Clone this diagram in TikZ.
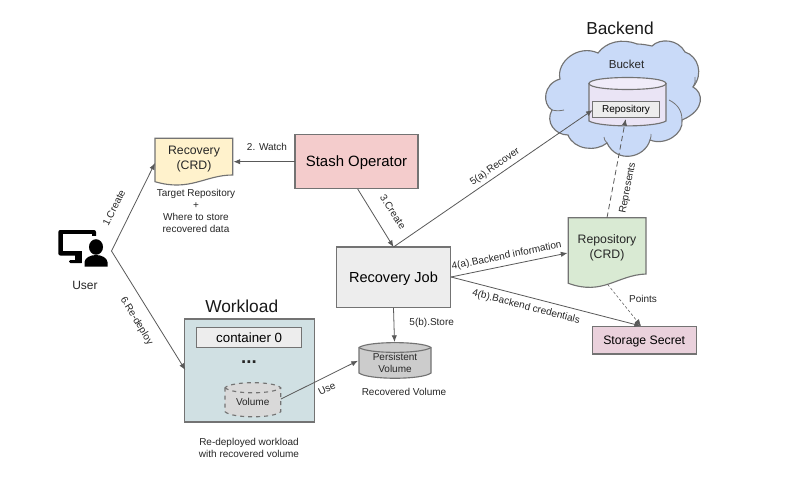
\documentclass[tikz,border=0pt]{standalone}
\usepackage{fontspec}
\setmainfont{Liberation Sans}
\usetikzlibrary{arrows.meta}
\definecolor{ln}{HTML}{595959}
\definecolor{edge}{HTML}{737373}
\definecolor{cloudc}{HTML}{C9DAF8}
\tikzset{x=0.75pt,y=-0.75pt,
 conn/.style={draw=ln,line width=0.6pt,-{Latex[length=5pt,width=4pt]}},
 connd/.style={conn,dash pattern=on 4pt off 2.5pt},
 conne/.style={conn,line width=0.4pt,dash pattern=on 2pt off 1.5pt},
 shp/.style={draw=edge,line width=0.85pt},
 box/.style={shp,inner sep=0pt,align=center},
 lbl/.style={font=\fontsize{7.5}{9}\selectfont,text=black!85,inner sep=0pt,align=center},
 big/.style={font=\fontsize{13}{15}\selectfont,text=black!90,inner sep=0pt,align=center}}
\begin{document}
\begin{tikzpicture}
\useasboundingbox (0,0) rectangle (786,489);
\fill[white] (0,0) rectangle (786,489);
% cloud
\path[shp,fill=cloudc]
 (598,53) .. controls (606,42) and (622,38) .. (637,44)
 .. controls (642,44) and (647,45) .. (652,46)
 .. controls (660,38) and (678,39) .. (685,52)
 .. controls (698,56) and (704,74) .. (693,87)
 .. controls (703,92) and (706,110) .. (682,120)
 .. controls (684,134) and (665,146) .. (650,140)
 .. controls (645,158) and (617,164) .. (607,143)
 .. controls (596,152) and (574,150) .. (568,135)
 .. controls (555,135) and (545,122) .. (552,110)
 .. controls (542,104) and (543,84) .. (560,79)
 .. controls (556,62) and (578,44) .. (598,53) -- cycle;
\draw[shp,line width=0.6pt] (693,87) .. controls (695,83) and (696,80) .. (695,77)
 (682,120) .. controls (682,110) and (677,104) .. (669,100)
 (552,110) .. controls (556,111) and (560,111) .. (564,110)
 (607,143) .. controls (605,141) and (604,139) .. (604,137)
 (650,140) .. controls (651,138) and (651,136) .. (651,134);
\node[big] (backend) at (620,28) {Backend};
\node[lbl,font=\fontsize{8.7}{10}\selectfont] (bucket) at (626.5,64) {Bucket};
% bucket cylinder
\path[shp,fill={rgb,255:red,234;green,228;blue,245}]
 (589,83.5) -- (589,121) .. controls (600,127.5) and (655,127.5) .. (666,121) -- (666,83.5) -- cycle;
\path[shp,fill={rgb,255:red,240;green,236;blue,249}]
 (589,83.5) .. controls (589,75.5) and (666,75.5) .. (666,83.5) .. controls (666,91.5) and (589,91.5) .. (589,83.5) -- cycle;
\node[box,fill=black!7,minimum width=50pt,minimum height=12pt,font=\fontsize{7.5}{9}\selectfont] (repoin) at (626,109.7) {Repository};
% recovery crd
\path[shp,fill={rgb,255:red,255;green,242;blue,204}]
 (155,138.3) -- (232.7,138.3) -- (232.7,175) .. controls (205,175) and (190,192) .. (155,181.7) -- cycle;
\node[lbl,font=\fontsize{9.2}{11.25}\selectfont] (rec) at (194,159.5) {Recovery\\(CRD)};
\coordinate (recw) at (155,163); \coordinate (rece) at (233.5,161.7);
\node[lbl] (rectxt) at (196,211) {Target Repository\\+\\Where to store\\recovered data};
% stash
\node[box,fill={rgb,255:red,244;green,204;blue,204},minimum width=92.2pt,minimum height=41pt,text depth=0pt,font=\fontsize{11.2}{13}\selectfont] (stash) at (356.5,161.5) {Stash Operator};
% job
\node[box,fill=black!7,minimum width=85.8pt,minimum height=45.5pt,text depth=0pt,font=\fontsize{10.9}{13}\selectfont] (job) at (393.5,277.3) {Recovery Job};
% repository crd
\path[shp,fill={rgb,255:red,217;green,234;blue,211}]
 (568.3,217.7) -- (646,217.7) -- (646,274) .. controls (617,275) and (603,296) .. (568.3,283.3) -- cycle;
\node[lbl,font=\fontsize{9.2}{11.25}\selectfont] (repo) at (607,247.5) {Repository\\(CRD)};
\coordinate (repow) at (567.5,253); \coordinate (repot) at (607,217.7); \coordinate (repob) at (607.7,284.5);
% secret
\node[box,fill={rgb,255:red,234;green,209;blue,220},minimum width=77.8pt,minimum height=20.5pt,text depth=0pt,font=\fontsize{9.2}{11}\selectfont] (secret) at (644.2,340.3) {Storage Secret};
\coordinate (sect) at (641,326);
% workload
\node[big] (wl) at (241.7,306.7) {Workload};
\node[box,fill={rgb,255:red,208;green,224;blue,227},minimum width=97pt,minimum height=77.2pt] (wbox) at (249.5,370.5) {};
\coordinate (wboxw) at (185.3,370);
\node[box,fill=black!7,minimum width=78.75pt,minimum height=14.7pt,font=\fontsize{10}{12}\selectfont] (c0) at (249.2,337.5) {container 0};
\node[font=\bfseries\fontsize{14}{14}\selectfont,inner sep=0pt,text=black!85] (dots) at (249,362) {...};
% volume
\path[fill=black!15,draw=edge,line width=0.85pt,dashed]
 (225,387.7) -- (225,411.7) .. controls (232,418.5) and (274,418.5) .. (280.7,411.7) -- (280.7,387.7) .. controls (274,381) and (232,381) .. (225,387.7) -- cycle;
\draw[draw=edge,line width=0.85pt,dashed] (225,387.7) .. controls (232,394.5) and (274,394.5) .. (280.7,387.7);
\node[lbl] (vol) at (252.7,402.3) {Volume};
\coordinate (vole) at (281,399);
% pv
\path[shp,fill=black!20]
 (359,347.5) -- (359,373) .. controls (368,380) and (422,380) .. (431,373) -- (431,347.5) .. controls (422,341) and (368,341) .. (359,347.5) -- cycle;
\draw[shp] (359,347.5) .. controls (368,354) and (422,354) .. (431,347.5);
\node[lbl] (pv) at (395,363) {Persistent\\Volume};
\coordinate (pvw) at (358,360.7); \coordinate (pvt) at (394.5,342);
\node[lbl] (rv) at (404,391.7) {Recovered Volume};
\node[lbl] (rd) at (249,447.5) {Re-deployed workload\\with recovered volume};
% user
\coordinate (uc) at (111.5,251);
\fill[black,rounded corners=1.5pt] (58.3,230) rectangle (96,255.5);
\fill[white] (62.7,234) rectangle (91.5,251);
\fill[black] (75,255) rectangle (82,260);
\fill[black,rounded corners=1pt] (69,260) rectangle (83,263);
\fill[white] (82,236) rectangle (110,268);
\fill[black] (96,247) ellipse[x radius=7,y radius=7.8];
\fill[black] (84.5,266.7) -- (84.5,262) .. controls (85,258) and (90,255) .. (96,255) .. controls (102,255) and (107,258) .. (107.5,262) -- (107.5,266.7) -- cycle;
\node[lbl,font=\fontsize{9}{11}\selectfont] (user) at (85,285) {User};
% connectors
\coordinate (stashw) at (295,161.7);
\coordinate (stashb) at (357.7,189);
\coordinate (jobt) at (393.5,247);
\coordinate (jobe) at (451,277);
\coordinate (jobb) at (393.5,308);
\coordinate (repoil) at (592.7,110);
\coordinate (repoib) at (625.7,119);
\draw[conn] (uc) -- (recw);
\draw[conn] (uc) -- (wboxw);
\draw[conn] (stashw) -- (rece);
\draw[conn] (stashb) -- (jobt);
\draw[conn] (jobt) -- (repoil);
\draw[conn] (jobe) -- (repow);
\draw[conn] (jobe) -- (sect);
\draw[conn] (jobb) -- (pvt);
\draw[conn] (vole) -- (pvw);
\draw[connd] (repot) -- (repoib);
\draw[conne] (repob) -- (sect);
% labels
\node[lbl,rotate=63] (l1) at (114,208) {1.Create};
\node[lbl,rotate=-59] (l6) at (136.5,321) {6.Re-deploy};
\node[lbl] (l2) at (267,147) {2. Watch};
\node[lbl,rotate=-57] (l3) at (393,212) {3.Create};
\node[lbl,rotate=35] (l5a) at (495,167) {5(a).Recover};
\node[lbl,rotate=11.5] (l4a) at (506.7,256) {4(a).Backend information};
\node[lbl,rotate=-14.5] (l4b) at (526,307) {4(b).Backend credentials};
\node[lbl] (l5b) at (431.7,322.5) {5(b).Store};
\node[lbl] (lp) at (643,298.5) {Points};
\node[lbl,rotate=79] (lr) at (628,188) {Represents};
\node[lbl,rotate=26] (lu) at (327,388.5) {Use};
\end{tikzpicture}
\end{document}
